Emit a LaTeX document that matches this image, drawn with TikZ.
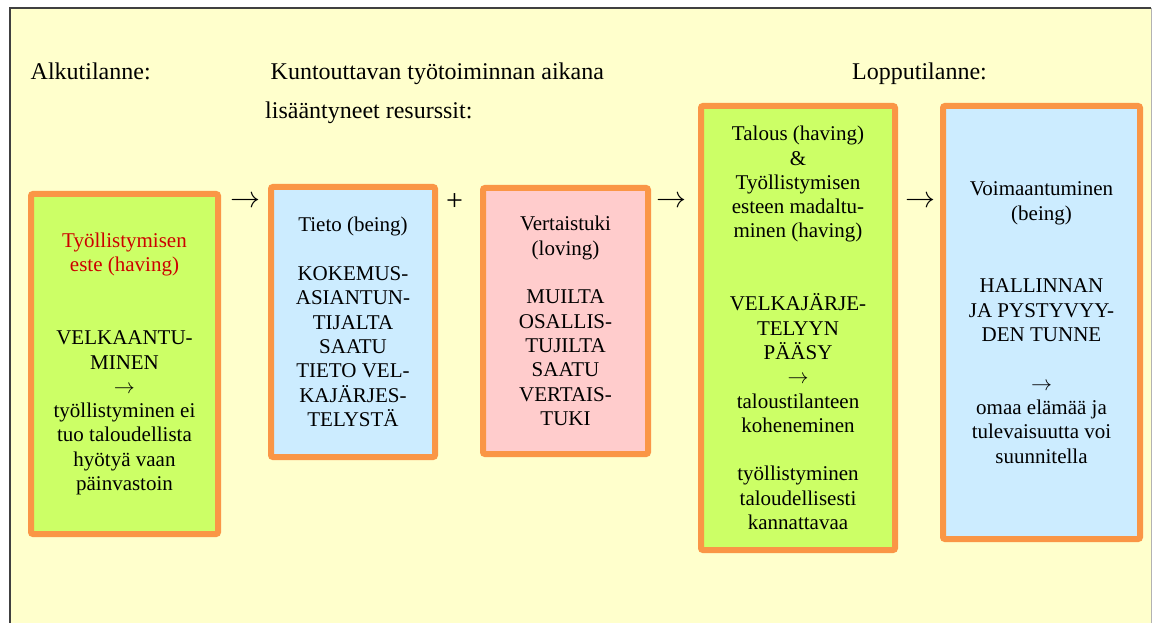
\RequirePackage{fix-cm}
\documentclass[tikz,border=0pt]{standalone}
\usepackage{fontspec}
\setmainfont{Liberation Serif}
\usetikzlibrary{positioning}
\definecolor{taustakelta}{RGB}{255,255,204}
\definecolor{reunaoranssi}{RGB}{250,150,70}
\definecolor{vihrea}{RGB}{204,255,102}
\definecolor{sininen}{RGB}{204,236,255}
\definecolor{roosa}{RGB}{255,204,204}
\definecolor{punainen}{RGB}{204,0,0}
\newcommand{\punainen}[1]{\textcolor{punainen}{#1}}
\newcommand{\nuoli}{$\rightarrow$}

\begin{document}
\begin{tikzpicture}[x=1pt,y=-1pt,
  laatikko/.style={draw=reunaoranssi,line width=6pt,rounded corners=2pt,align=center,inner sep=0pt,font=\fontsize{21}{24.3}\selectfont},
  otsikko/.style={anchor=base west,inner sep=0pt,font=\fontsize{24}{28}\selectfont},
  merkki/.style={inner sep=0pt,font=\fontsize{30}{36}\selectfont}]
\useasboundingbox (0,0) rectangle (1152,623);
% tausta ja kehys
\fill[taustakelta] (10,8) rectangle (1152,623);
\draw[black!75,line width=2pt] (10,623) -- (10,8) -- (1151,8);
\draw[black!30,line width=1pt] (1151,8) -- (1151,623);

% otsikot
\node[otsikko] (alku) at (30.5,79.5) {Alkutilanne:};
\node[otsikko] (kesken) at (270.5,79.5) {Kuntouttavan työtoiminnan aikana};
\node[otsikko] (resurssit) at (265,119) {lisääntyneet resurssit:};
\node[otsikko] (loppu) at (852,79.5) {Lopputilanne:};

% laatikot
\node[laatikko,fill=vihrea,minimum width=187pt,minimum height=340pt] (este) at (124.5,364)
  {\punainen{Työllistymisen}\\\punainen{este (having)}\\[48.6pt]VELKAANTU-\\MINEN\\\nuoli\\työllistyminen ei\\tuo taloudellista\\hyötyä vaan\\päinvastoin};
\node[laatikko,fill=sininen,minimum width=164pt,minimum height=270pt] (tieto) at (353,322)
  {Tieto (being)\\[24.3pt]KOKEMUS-\\ASIANTUN-\\TIJALTA\\SAATU\\TIETO VEL-\\KAJÄRJES-\\TELYSTÄ};
\node[laatikko,fill=roosa,minimum width=165pt,minimum height=266pt] (vertais) at (565.5,321)
  {Vertaistuki\\(loving)\\[24.3pt]MUILTA\\OSALLIS-\\TUJILTA\\SAATU\\VERTAIS-\\TUKI};
\node[laatikko,fill=vihrea,minimum width=194pt,minimum height=444pt] (talous) at (798,328)
  {Talous (having)\\\&\\Työllistymisen\\esteen madaltu-\\minen (having)\\[48.6pt]VELKAJÄRJE-\\TELYYN\\PÄÄSY\\\nuoli\\taloustilanteen\\koheneminen\\[24.3pt]työllistyminen\\taloudellisesti\\kannattavaa};
\node[laatikko,fill=sininen,minimum width=197pt,minimum height=433pt] (voima) at (1041.5,322.5)
  {Voimaantuminen\\(being)\\[48.6pt]HALLINNAN\\JA PYSTYVYY-\\DEN TUNNE\\[24.3pt]\nuoli\\omaa elämää ja\\tulevaisuutta voi\\suunnitella};

% merkit laatikoiden välissä
\node[merkki] (nuoli1) at (245.5,202) {\nuoli};
\node[merkki] (plus) at (454.5,202) {+};
\node[merkki] (nuoli2) at (671.5,202) {\nuoli};
\node[merkki] (nuoli3) at (920,202) {\nuoli};
\end{tikzpicture}
\end{document}
